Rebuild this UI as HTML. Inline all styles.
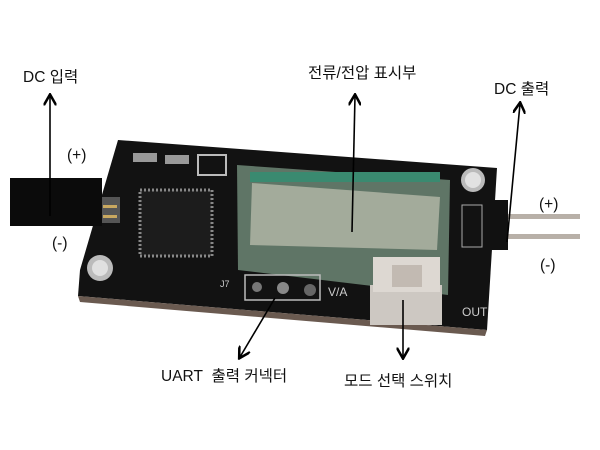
<!DOCTYPE html>
<html><head><meta charset="utf-8"><style>
body{margin:0;width:600px;height:450px;background:#fff;overflow:hidden;position:relative;font-family:"Liberation Sans","Noto Sans CJK KR",sans-serif;}
.t{position:absolute;font-size:15.5px;color:#111;white-space:nowrap;line-height:16px}
</style></head><body>
<svg width="600" height="450" style="position:absolute;left:0;top:0">
<defs><marker id="a" markerWidth="8" markerHeight="8" refX="6" refY="4" orient="auto"><path d="M0,0 L7,4 L0,8" fill="none" stroke="#000" stroke-width="1.6"/></marker></defs>
<polygon points="118,140 497,168 487,330 78,296 80,270" fill="#121212"/>
<polygon points="78,296 487,330 485,336 80,302" fill="#6a5a50"/>
<circle cx="100" cy="268" r="13" fill="#bbb"/><circle cx="100" cy="268" r="8" fill="#e0e0e0"/>
<circle cx="473" cy="180" r="12" fill="#bbb"/><circle cx="473" cy="180" r="8" fill="#e2e2e2"/>
<rect x="10" y="178" width="92" height="48" fill="#0b0b0b"/>
<rect x="102" y="197" width="18" height="26" fill="#555"/>
<rect x="103" y="205" width="14" height="3" fill="#c9a860"/><rect x="103" y="215" width="14" height="3" fill="#c9a860"/>
<rect x="140" y="190" width="72" height="66" fill="#1c1c1c" stroke="#888" stroke-dasharray="2,2" stroke-width="3"/>
<rect x="133" y="153" width="24" height="9" fill="#999"/><rect x="165" y="155" width="24" height="9" fill="#999"/>
<rect x="198" y="155" width="28" height="20" fill="none" stroke="#bbb" stroke-width="2"/>
<polygon points="237,165 450,180 448,295 238,270" fill="#5f7566"/>
<rect x="250" y="172" width="190" height="10" fill="#3a8a70"/>
<polygon points="252,183 440,197 437,250 250,245" fill="#a3ab9b"/>
<rect x="245" y="275" width="75" height="25" fill="none" stroke="#bbb" stroke-width="1.5"/>
<circle cx="257" cy="287" r="5" fill="#777"/><circle cx="283" cy="288" r="6" fill="#888"/><circle cx="310" cy="290" r="6" fill="#666"/>
<text x="220" y="287" fill="#ccc" font-size="9">J7</text>
<text x="328" y="296" fill="#ccc" font-size="12">V/A</text>
<text x="462" y="316" fill="#ccc" font-size="12">OUT</text>
<rect x="370" y="285" width="72" height="40" fill="#cdc8c2"/>
<rect x="373" y="257" width="67" height="35" fill="#ddd8d2"/>
<rect x="392" y="265" width="30" height="22" fill="#c2bab2"/>
<rect x="462" y="205" width="20" height="42" fill="none" stroke="#aaa"/>
<rect x="490" y="200" width="18" height="50" fill="#111"/>
<rect x="508" y="214" width="72" height="5" fill="#b8b0a8"/><rect x="508" y="234" width="72" height="5" fill="#b8b0a8"/>
<g stroke="#000" stroke-width="1.6" fill="none">
<line x1="50" y1="216" x2="50" y2="96" marker-end="url(#a)"/>
<line x1="352" y1="232" x2="355" y2="96" marker-end="url(#a)"/>
<line x1="507" y1="242" x2="520" y2="104" marker-end="url(#a)"/>
<line x1="275" y1="298" x2="240" y2="357" marker-end="url(#a)"/>
<line x1="403" y1="300" x2="403" y2="357" marker-end="url(#a)"/>
</g>
</svg>
<div class="t" style="left:23px;top:70px">DC 입력</div>
<div class="t" style="left:308px;top:66px">전류/전압 표시부</div>
<div class="t" style="left:494px;top:82px">DC 출력</div>
<div class="t" style="left:67px;top:148px">(+)</div>
<div class="t" style="left:52px;top:236px">(-)</div>
<div class="t" style="left:539px;top:197px">(+)</div>
<div class="t" style="left:540px;top:258px">(-)</div>
<div class="t" style="left:161px;top:369px">UART&nbsp; 출력 커넥터</div>
<div class="t" style="left:344px;top:374px">모드 선택 스위치</div>
</body></html>
